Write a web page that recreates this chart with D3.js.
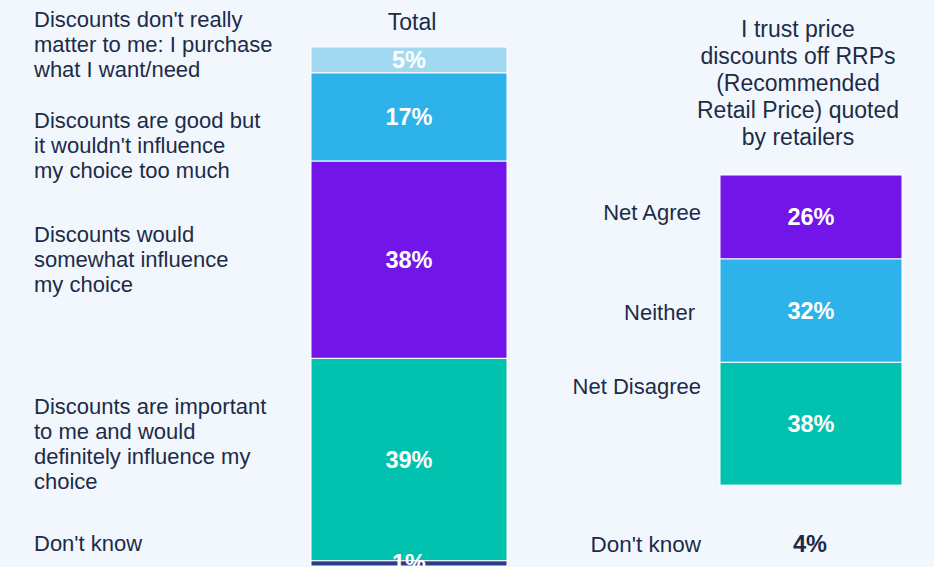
<!DOCTYPE html>
<html>
<head>
<meta charset="utf-8">
<script src="https://cdn.jsdelivr.net/npm/d3@7"></script>
<style>
  html, body { margin: 0; padding: 0; background: #f2f7fe; }
  svg { display: block; }
  text { font-family: "Liberation Sans", Arial, sans-serif; }
</style>
</head>
<body>
<svg id="chart" width="934" height="567"></svg>
<script>
// ---------- DATA ----------
const totalCategories = [
  "Discounts don't really matter to me: I purchase what I want/need",
  "Discounts are good but it wouldn't influence my choice too much",
  "Discounts would somewhat influence my choice",
  "Discounts are important to me and would definitely influence my choice",
  "Don't know"
];
const totalLabelLines = [
  ["Discounts don't really", "matter to me: I purchase", "what I want/need"],
  ["Discounts are good but", "it wouldn't influence", "my choice too much"],
  ["Discounts would", "somewhat influence", "my choice"],
  ["Discounts are important", "to me and would", "definitely influence my", "choice"],
  ["Don't know"]
];
const totalValues = [5, 17, 38, 39, 1];
const totalTitle = "Total";

const trustCategories = ["Net Agree", "Neither", "Net Disagree"];
const trustValues = [26, 32, 38];
const trustDontKnowLabel = "Don't know";
const trustDontKnowValue = 4;
const trustTitleLines = ["I trust price", "discounts off RRPs", "(Recommended", "Retail Price) quoted", "by retailers"];

// ---------- STYLE / LAYOUT ----------
const totalColors = ["#a2d9f0", "#2db3e9", "#7215e9", "#00c2ae", "#283d8c"];
const trustColors = ["#7215e9", "#2db3e9", "#00c2ae"];
const textColor = "#1c2c48";

const svg = d3.select("#chart");
svg.append("rect").attr("width", 934).attr("height", 567).attr("fill", "#f2f7fe");

function stack(values) {
  let acc = 0;
  return values.map(v => { const s = acc; acc += v; return [s, acc]; });
}

// ---------- LEFT PANEL ----------
const yTotal = d3.scaleLinear().domain([0, 100]).range([47, 566]);
const xTotal = d3.scaleBand().domain([totalTitle]).range([311, 507]).padding(0);
const totalStack = stack(totalValues);

svg.append("text")
  .attr("x", xTotal(totalTitle) + xTotal.bandwidth() / 2 + 3)
  .attr("y", 30)
  .attr("text-anchor", "middle")
  .attr("font-size", 23)
  .attr("fill", textColor)
  .text(totalTitle);

const gTotal = svg.append("g");
gTotal.selectAll("rect")
  .data(totalStack)
  .join("rect")
  .attr("x", xTotal(totalTitle))
  .attr("width", xTotal.bandwidth())
  .attr("y", d => yTotal(d[0]))
  .attr("height", d => yTotal(d[1]) - yTotal(d[0]))
  .attr("fill", (d, i) => totalColors[i])
  .attr("stroke", "#ffffff")
  .attr("stroke-width", 1);

gTotal.selectAll("text.val")
  .data(totalStack)
  .join("text")
  .attr("class", "val")
  .attr("x", xTotal(totalTitle) + xTotal.bandwidth() / 2)
  .attr("y", d => (yTotal(d[0]) + yTotal(d[1])) / 2 + 8)
  .attr("text-anchor", "middle")
  .attr("font-size", 23.5)
  .attr("font-weight", "bold")
  .attr("fill", "#ffffff")
  .text((d, i) => totalValues[i] + "%");

// left category labels
const leftLabelX = 34;
const leftLabelBaselines = [27, 128, 242, 414, 551];
const lineH = 25;
totalLabelLines.forEach((lines, i) => {
  const t = svg.append("text")
    .attr("x", leftLabelX)
    .attr("y", leftLabelBaselines[i])
    .attr("font-size", 22)
    .attr("fill", textColor);
  lines.forEach((ln, j) => {
    t.append("tspan").attr("x", leftLabelX).attr("dy", j === 0 ? 0 : lineH).text(ln);
  });
});

// ---------- RIGHT PANEL ----------
const yTrust = d3.scaleLinear().domain([0, 100]).range([175, 498]);
const xTrust = d3.scaleBand().domain(["trust"]).range([720, 902]).padding(0);
const trustStack = stack(trustValues);

const titleT = svg.append("text")
  .attr("x", 798)
  .attr("y", 37)
  .attr("text-anchor", "middle")
  .attr("font-size", 23)
  .attr("fill", textColor);
trustTitleLines.forEach((ln, j) => {
  titleT.append("tspan").attr("x", 798).attr("dy", j === 0 ? 0 : 27).text(ln);
});

const gTrust = svg.append("g");
gTrust.selectAll("rect")
  .data(trustStack)
  .join("rect")
  .attr("x", xTrust("trust"))
  .attr("width", xTrust.bandwidth())
  .attr("y", d => yTrust(d[0]))
  .attr("height", d => yTrust(d[1]) - yTrust(d[0]))
  .attr("fill", (d, i) => trustColors[i])
  .attr("stroke", "#ffffff")
  .attr("stroke-width", 1);

gTrust.selectAll("text.val")
  .data(trustStack)
  .join("text")
  .attr("class", "val")
  .attr("x", xTrust("trust") + xTrust.bandwidth() / 2)
  .attr("y", d => (yTrust(d[0]) + yTrust(d[1])) / 2 + 8)
  .attr("text-anchor", "middle")
  .attr("font-size", 23.5)
  .attr("font-weight", "bold")
  .attr("fill", "#ffffff")
  .text((d, i) => trustValues[i] + "%");

const rightLabelX = [701, 695, 701];
const rightLabelBaselines = [220, 320, 394];
svg.selectAll("text.rlab")
  .data(trustCategories)
  .join("text")
  .attr("class", "rlab")
  .attr("x", (d, i) => rightLabelX[i])
  .attr("y", (d, i) => rightLabelBaselines[i])
  .attr("text-anchor", "end")
  .attr("font-size", 22)
  .attr("fill", textColor)
  .text(d => d);

svg.append("text")
  .attr("x", 701)
  .attr("y", 552)
  .attr("text-anchor", "end")
  .attr("font-size", 22.5)
  .attr("fill", textColor)
  .text(trustDontKnowLabel);

svg.append("text")
  .attr("x", xTrust("trust") + xTrust.bandwidth() / 2 - 1)
  .attr("y", 552)
  .attr("text-anchor", "middle")
  .attr("font-size", 23.5)
  .attr("font-weight", "bold")
  .attr("fill", textColor)
  .text(trustDontKnowValue + "%");
</script>
</body>
</html>
